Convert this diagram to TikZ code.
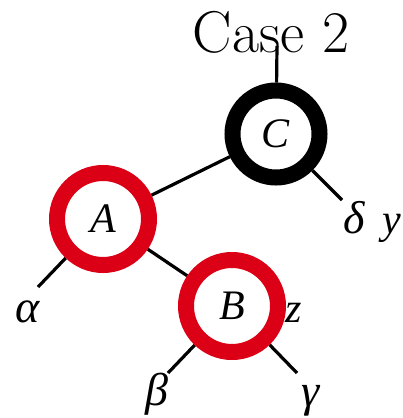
\documentclass[tikz,border=0pt]{standalone}
\usepackage{fontspec}
\newfontfamily\lbfont{Liberation Serif}
\usetikzlibrary{backgrounds}
\definecolor{rbred}{RGB}{220,0,22}
\begin{document}
\begin{tikzpicture}[x=1pt,y=-1pt,
  ring/.style={circle,draw,line width=16pt,fill=white,inner sep=0pt,minimum size=#1,font=\lbfont\fontsize{42}{42}\selectfont\itshape},
  edge/.style={line width=3.2pt},
  lbl/.style={font=\lbfont\fontsize{42}{42}\selectfont\itshape,inner sep=0pt,anchor=base},
  glbl/.style={font=\lbfont\fontsize{46}{46}\selectfont\itshape,inner sep=0pt,anchor=base}]
\useasboundingbox (0,0) rectangle (403,418);
\node[ring=87pt,draw=black] (C) at (276,134) {C};
\node[ring=92pt,draw=rbred] (A) at (103,219) {A};
\node[ring=92pt,draw=rbred] (B) at (232,306) {B};
\node[font=\fontsize{59}{59}\selectfont,inner sep=0pt,anchor=base] (title) at (271,52) {Case 2};
\coordinate (top) at (277,46);
\coordinate (dend) at (342,200);
\coordinate (aend) at (38,287);
\coordinate (bend) at (168,373);
\coordinate (gend) at (297,373);
\node[glbl] (delta) at (354,233) {δ};
\node[lbl] (y) at (392,233) {y};
\node[glbl] (alpha) at (28,322) {α};
\node[lbl] (z) at (294,322) {z};
\node[glbl] (beta) at (157,405) {β};
\node[glbl] (gamma) at (311,406) {γ};
\begin{pgfonlayer}{background}
\draw[edge] (C) -- (top);
\draw[edge] (C) -- (A);
\draw[edge] (C) -- (dend);
\draw[edge] (A) -- (aend);
\draw[edge] (A) -- (B);
\draw[edge] (B) -- (bend);
\draw[edge] (B) -- (gend);
\end{pgfonlayer}
\end{tikzpicture}
\end{document}
